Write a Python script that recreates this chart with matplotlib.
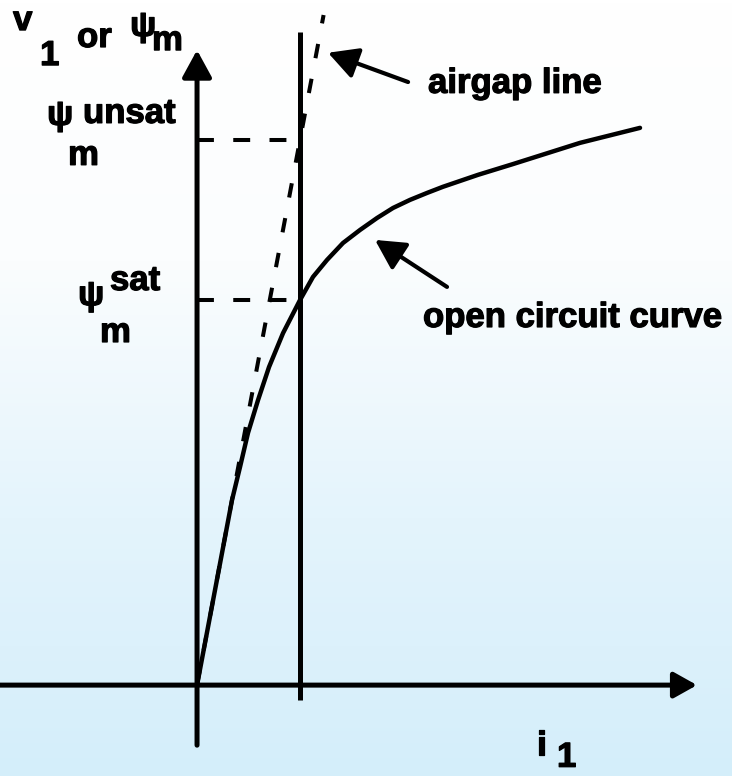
import numpy as np
import matplotlib
matplotlib.use('Agg')
from matplotlib import pyplot as plt
from matplotlib import patheffects as pe
from matplotlib.colors import LinearSegmentedColormap

# open circuit (magnetising) curve, in units of i_sat / psi_sat
curve_i = [0.0, 0.340, 0.417, 0.495, 0.592, 0.699, 0.835, 1.0, 1.126, 1.262,
           1.417, 1.583, 1.748, 1.903, 2.068, 2.233, 2.388, 2.728, 3.068,
           3.718, 4.301]
curve_psi = [0.0, 0.481, 0.566, 0.655, 0.740, 0.826, 0.914, 1.0, 1.060, 1.104,
             1.148, 1.182, 1.213, 1.239, 1.260, 1.278, 1.294, 1.325, 1.353,
             1.408, 1.447]

i_sat = 1.0
psi_sat = 1.0
psi_unsat = 1.416
airgap_top = 1.74

plt.rcParams['font.family'] = ['Liberation Sans', 'DejaVu Sans']

fig = plt.figure(figsize=(7.32, 7.76), dpi=100)
ax = fig.add_axes([0, 0, 1, 1])
ax.set_xlim(-1.913, 5.194)
ax.set_ylim(-0.236, 1.779)
ax.axis('off')

# paper background: white at the top fading into pale blue
bg = LinearSegmentedColormap.from_list('bg', ['#d4eefa', '#e4f4fc', '#fbfdfe', '#ffffff'])
grad = np.linspace(0, 1, 256).reshape(-1, 1)
ax.imshow(grad, extent=(-1.913, 5.194, -0.236, 1.779), origin='lower',
          aspect='auto', cmap=bg, zorder=0)

k = 'black'
axis_lw = 3.6

# axes with arrow heads
ax.annotate('', xy=(0, 1.649), xytext=(0, -0.156),
            arrowprops=dict(arrowstyle='-|>,head_length=0.55,head_width=0.3',
                            mutation_scale=30, lw=axis_lw, color=k,
                            shrinkA=0, shrinkB=0))
ax.annotate('', xy=(4.854, 0), xytext=(-1.913, 0),
            arrowprops=dict(arrowstyle='-|>,head_length=0.5,head_width=0.28',
                            mutation_scale=28, lw=axis_lw, color=k,
                            shrinkA=0, shrinkB=0))

# vertical line through the saturated operating point
ax.plot([i_sat, i_sat], [-0.039, 1.696], color=k, lw=axis_lw, solid_capstyle='butt')

# airgap line
slope = psi_unsat / i_sat
ax.plot([0, airgap_top / slope], [0, airgap_top], color=k, lw=2.9,
        dashes=(3.6, 5.2), dash_capstyle='butt')

# projections to the flux axis
ax.plot([0, i_sat], [psi_unsat, psi_unsat], color=k, lw=2.9, dashes=(4.2, 4.8))
ax.plot([0, i_sat], [psi_sat, psi_sat], color=k, lw=2.9, dashes=(4.2, 4.8))

# open circuit curve
ax.plot(curve_i, curve_psi, color=k, lw=3.2, solid_capstyle='round',
        solid_joinstyle='round')

fs = 25
heavy = [pe.withStroke(linewidth=0.9, foreground=k)]
tk = dict(color=k, fontsize=fs, fontweight='bold', va='baseline', ha='left',
          path_effects=heavy)
ax.text(-1.786, 1.701, 'v', **tk)
ax.text(-1.524, 1.610, '1', **tk)
ax.text(-1.165, 1.657, 'or', **tk)
ax.text(-0.650, 1.686, 'ψ', **tk)
ax.text(-0.437, 1.649, 'm', **tk)

ax.text(-1.456, 1.455, 'ψ', **tk)
ax.text(-1.107, 1.460, 'unsat', **tk)
ax.text(-1.252, 1.351, 'm', **tk)

ax.text(-1.155, 0.987, 'ψ', **tk)
ax.text(-0.845, 1.026, 'sat', **tk)
ax.text(-0.942, 0.891, 'm', **tk)

ax.text(2.243, 1.538, 'airgap line', **tk)
ax.text(2.194, 0.930, 'open circuit curve', **tk)

ax.text(3.301, -0.182, 'i', **tk)
ax.text(3.495, -0.212, '1', **tk)

arr = dict(arrowstyle='-|>,head_length=0.6,head_width=0.32', mutation_scale=30,
           lw=3.0, color=k, shrinkA=0, shrinkB=0)
ax.annotate('', xy=(1.272, 1.642), xytext=(2.049, 1.566), arrowprops=arr)
ax.annotate('', xy=(1.728, 1.156), xytext=(2.427, 1.034), arrowprops=arr)

fig.savefig('out.png', dpi=100)
